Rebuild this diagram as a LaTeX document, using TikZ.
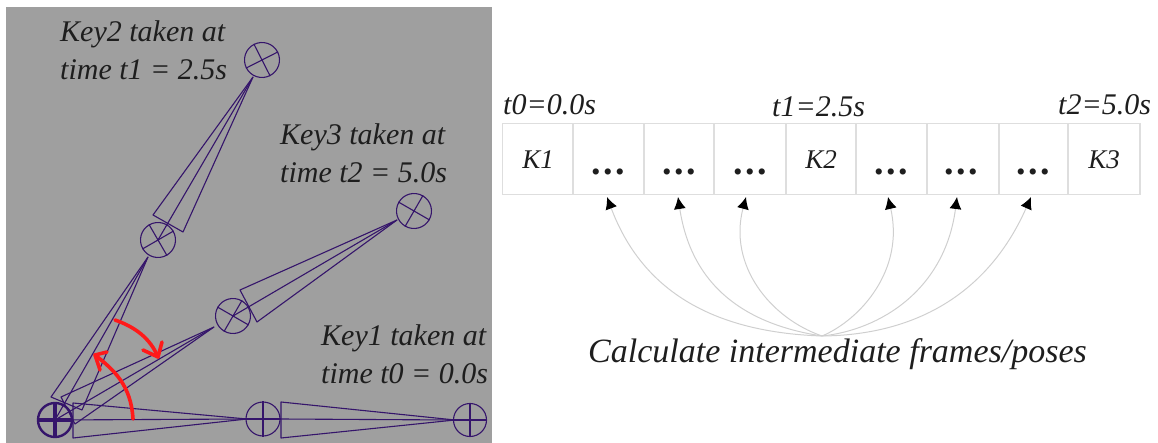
\documentclass[tikz,border=0pt]{standalone}
\usepackage{fontspec}
\setmainfont{Liberation Serif}
\usetikzlibrary{arrows.meta}
\definecolor{panelgray}{HTML}{9F9F9F}
\definecolor{bonecol}{HTML}{35156B}
\definecolor{gridcol}{HTML}{DEDEDE}
\definecolor{curvecol}{HTML}{CFCFCF}
\definecolor{inkcol}{HTML}{1E1E1E}
\definecolor{redcol}{HTML}{FF1A1A}
\tikzset{
  bone/.style={draw=bonecol,line width=1.1pt,line join=round},
  joint/.style={circle,draw=bonecol,line width=1.1pt,inner sep=0pt,minimum size=#1},
  rootjoint/.style={circle,draw=bonecol,line width=2.4pt,inner sep=0pt,minimum size=34},
  keytext/.style={font=\fontsize{30}{38}\selectfont\itshape,text=inkcol,align=left,anchor=west,inner sep=0pt},
  celltext/.style={font=\fontsize{27}{27}\selectfont\itshape,text=inkcol,inner sep=0pt},
  timetext/.style={font=\fontsize{30}{30}\selectfont\itshape,text=inkcol,inner sep=0pt,anchor=west},
  dotstext/.style={font=\fontsize{38}{38}\selectfont\bfseries,text=inkcol,inner sep=0pt},
  cellbox/.style={draw=gridcol,line width=1.3pt,inner sep=0pt,minimum height=71},
  curve/.style={draw=curvecol,line width=1pt,-{Latex[black,length=12,width=12]}},
  redarc/.style={draw=redcol,line width=3.6pt,line cap=round,line join=round}
}
\begin{document}
\begin{tikzpicture}[x=1pt,y=-1pt]
\useasboundingbox (0,0) rectangle (1158,443);
\fill[panelgray] (6,7) rectangle (492,443);

% joints
\node[rootjoint] (J0) at (55,420) {};
\draw[bonecol,line width=3.2pt] (J0.north)--(J0.south) (J0.west)--(J0.east);
\node[joint=34] (A1) at (263,419) {};
\node[joint=33] (A2) at (470,420) {};
\node[joint=35,rotate=30] (B1) at (158,240) {};
\node[joint=35,rotate=27] (B2) at (262,60) {};
\node[joint=35,rotate=-30] (C1) at (233,316) {};
\node[joint=35,rotate=-30] (C2) at (414,211) {};
\foreach \n in {A1,A2,B1,B2,C1,C2}
  \draw[bone] (\n.north)--(\n.south) (\n.west)--(\n.east);

% base corners of bones
\coordinate (a1) at (73,403); \coordinate (a2) at (73,438);
\coordinate (a3) at (281,402); \coordinate (a4) at (281,438);
\coordinate (b1) at (51,397); \coordinate (b2) at (82,410);
\coordinate (b3) at (153,215); \coordinate (b4) at (183,232);
\coordinate (c1) at (61,397); \coordinate (c2) at (75,424);
\coordinate (c3) at (240,290); \coordinate (c4) at (257,322);
\coordinate (ta) at (247,419); \coordinate (tb) at (148,257); \coordinate (tc) at (214,327);
\coordinate (ta2) at (455,420); \coordinate (tb2) at (253,77); \coordinate (tc2) at (397,220);

% lower bones
\draw[bone] (a1)--(ta)--(a2)--cycle;
\draw[bone] (J0.center)--(ta);
\draw[bone] (b1)--(tb)--(b2)--cycle;
\draw[bone] (J0.center)--(tb);
\draw[bone] (c1)--(tc)--(c2)--cycle;
\draw[bone] (J0.center)--(tc);
% upper bones
\draw[bone] (a3)--(ta2)--(a4)--cycle;
\draw[bone] (A1.east)--(ta2);
\draw[bone] (b3)--(tb2)--(b4)--cycle;
\draw[bone] (B1.center)--(tb2);
\draw[bone] (c3)--(tc2)--(c4)--cycle;
\draw[bone] (C1.center)--(tc2);

% red arcs
\coordinate (r1s) at (133,419); \coordinate (r1e) at (95,355);
\coordinate (r1p) at (107,352); \coordinate (r1q) at (100,370);
\coordinate (r2s) at (115,320); \coordinate (r2e) at (158,357);
\coordinate (r2p) at (143,350); \coordinate (r2q) at (162,342);
\draw[redarc] (r1s) .. controls (131,385) and (114,370) .. (r1e);
\draw[redarc] (r1p)--(r1e)--(r1q);
\draw[redarc] (r2s) .. controls (135,327) and (150,338) .. (r2e);
\draw[redarc] (r2p)--(r2e)--(r2q);

% key labels
\node[keytext] (key2) at (60,50) {Key2 taken at\\time t1 = 2.5s};
\node[keytext] (key3) at (280,153) {Key3 taken at\\time t2 = 5.0s};
\node[keytext] (key1) at (321,354) {Key1 taken at\\time t0 = 0.0s};

% frame strip
\node[cellbox,minimum width=70.5] (c1cell) at (538,159) {};
\node[cellbox,minimum width=71] (c2cell) at (608.5,159) {};
\node[cellbox,minimum width=70] (c3cell) at (679,159) {};
\node[cellbox,minimum width=72] (c4cell) at (750,159) {};
\node[cellbox,minimum width=70] (c5cell) at (821,159) {};
\node[cellbox,minimum width=71] (c6cell) at (891.5,159) {};
\node[cellbox,minimum width=72] (c7cell) at (963,159) {};
\node[cellbox,minimum width=69] (c8cell) at (1033.5,159) {};
\node[cellbox,minimum width=72] (c9cell) at (1104,159) {};

\node[celltext] (k1) at (538,160) {K1};
\node[celltext] (k2) at (821,160) {K2};
\node[celltext] (k3) at (1104,160) {K3};
\foreach \c/\x in {a/608,b/679,c/750,d/891,e/961,f/1033}
  \node[dotstext,anchor=base] (dots\c) at (\x,175) {.\kern2.5pt.\kern2.5pt.};

\node[timetext] (t0) at (503,105) {t0=0.0s};
\node[timetext] (t1) at (772,107) {t1=2.5s};
\node[timetext] (t2) at (1058,105) {t2=5.0s};

% arrows
\coordinate (hub) at (822,336);
\coordinate (p1) at (607,197); \coordinate (p2) at (678,197); \coordinate (p3) at (746,197);
\coordinate (p4) at (888,197); \coordinate (p5) at (957,197); \coordinate (p6) at (1031,197);
\draw[curve] (hub) .. controls (705,332) and (640,285) .. (p1);
\draw[curve] (hub) .. controls (750,325) and (692,290) .. (p2);
\draw[curve] (hub) .. controls (770,318) and (728,265) .. (p3);
\draw[curve] (hub) .. controls (860,320) and (905,270) .. (p4);
\draw[curve] (hub) .. controls (880,330) and (945,290) .. (p5);
\draw[curve] (hub) .. controls (920,335) and (990,290) .. (p6);

\node[font=\fontsize{34}{34}\selectfont\itshape,text=inkcol,inner sep=0pt,anchor=west] (cap) at (588,354) {Calculate intermediate frames/poses};
\end{tikzpicture}
\end{document}
